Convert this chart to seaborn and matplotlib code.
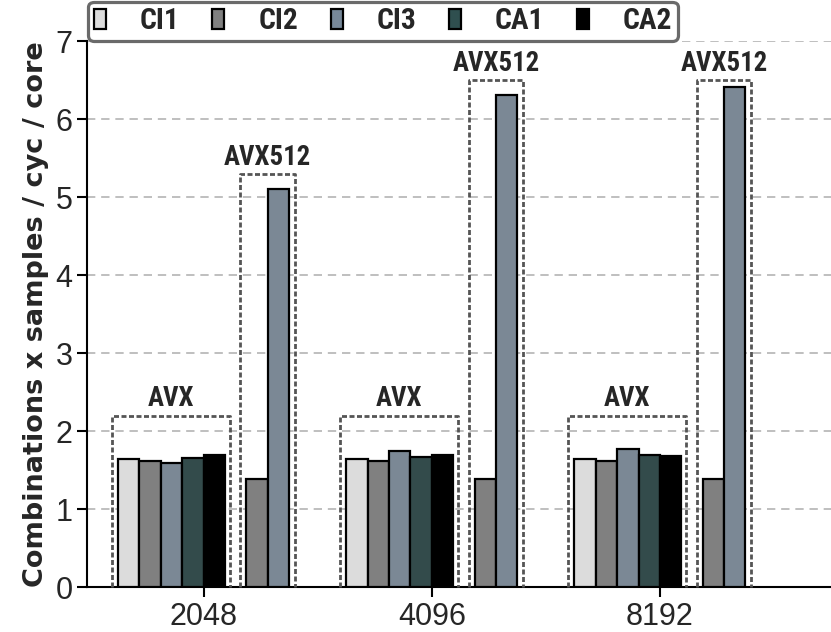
import pandas as pd
import numpy as np
import matplotlib

matplotlib.use("Agg")
import matplotlib.pyplot as plt
from matplotlib.patches import Patch
from matplotlib import font_manager
from matplotlib.font_manager import FontProperties
from matplotlib.textpath import TextPath
import seaborn as sns

sns.set_style("white")

# data
sizes = ["2048", "4096", "8192"]
ci1 = [1.64, 1.64, 1.64]
ci2 = [1.62, 1.62, 1.62]
ci3 = [1.59, 1.75, 1.77]
ca1 = [1.65, 1.67, 1.70]
ca2 = [1.69, 1.69, 1.68]
ci2_avx512 = [1.38, 1.38, 1.38]
ci3_avx512 = [5.10, 6.31, 6.41]

legend_names = ["CI1", "CI2", "CI3", "CA1", "CA2"]
colors = ["#dcdcdc", "#808080", "#778899", "#2f4f4f", "#000000"]

series = {
    "CI1": ci1,
    "CI2": ci2,
    "CI3": ci3,
    "CA1": ca1,
    "CA2": ca2,
    "CI2 AVX512": ci2_avx512,
    "CI3 AVX512": ci3_avx512,
}
hue_order = ["CI1", "CI2", "CI3", "CA1", "CA2", "gap", "CI2 AVX512", "CI3 AVX512"]
palette = dict(zip(legend_names, colors))
palette["gap"] = "white"
palette["CI2 AVX512"] = palette["CI2"]
palette["CI3 AVX512"] = palette["CI3"]

rows = []
for name, vals in series.items():
    for s, v in zip(sizes, vals):
        rows.append({"size": s, "variant": name, "value": v})
df = pd.DataFrame(rows)

plt.rcParams["font.family"] = ["Liberation Sans", "DejaVu Sans"]

# pick a bold narrow face, the reference uses something like Arial Narrow Bold
bold_faces = {f.name for f in font_manager.fontManager.ttflist if f.weight in (600, 700, "bold")}
narrow_name = "DejaVu Sans"
for cand in ["Nimbus Sans Narrow", "Arial Narrow", "Liberation Sans Narrow",
             "Roboto Condensed", "PT Sans Narrow", "Fira Sans Condensed",
             "IBM Plex Sans Condensed", "Asap Condensed"]:
    if cand in bold_faces:
        narrow_name = cand
        break
narrow = dict(family=[narrow_name, "DejaVu Sans"], weight="bold")
if narrow_name == "DejaVu Sans":
    narrow["stretch"] = "condensed"
ylab_font = dict(family=["DejaVu Sans"], weight="bold")


def cap_size(cap_px, font):
    # font size (pt) whose capital letters are cap_px pixels tall at 100 dpi
    fp = FontProperties(family=font["family"], weight=font["weight"],
                        stretch=font.get("stretch", "normal"))
    h = TextPath((0, 0), "H", size=100, prop=fp).get_extents().height
    return cap_px * 100 / h * 72 / 100


#%%
fig = plt.figure(figsize=(8.31, 6.32), dpi=100)
renderer = fig.canvas.get_renderer()


def fit_size(s, target, font, rotation=0):
    # font size that gives the text the target length in pixels
    t = fig.text(0, 0, s, fontsize=20, rotation=rotation, **font)
    bb = t.get_window_extent(renderer)
    t.remove()
    length = bb.height if rotation else bb.width
    return 20 * target / length


ax = fig.add_axes([0.105, 0.071, 0.895, 0.864])

group_width = 0.75
sns.barplot(
    data=df,
    x="size",
    y="value",
    hue="variant",
    hue_order=hue_order,
    order=sizes,
    palette=palette,
    width=group_width,
    edgecolor="black",
    linewidth=1.6,
    errorbar=None,
    legend=False,
    ax=ax,
    zorder=3,
)

ax.set_ylim(0, 7)
ax.set_xlim(-0.51, 2.75)
ax.set_yticks(range(8))
ax.yaxis.grid(True, linestyle=(0, (5, 3.5)), color="#b4b4b4", linewidth=1.2, zorder=0)
ax.set_axisbelow(True)
for side in ["top", "right"]:
    ax.spines[side].set_visible(False)
for side in ["left", "bottom"]:
    ax.spines[side].set_color("black")
    ax.spines[side].set_linewidth(1.5)
ax.tick_params(axis="both", which="major", labelsize=22, length=7, width=1.5,
               direction="out", color="black", bottom=True, left=True)
ax.set_xlabel("")
ylabel = "Combinations x samples / cyc / core"
ax.set_ylabel(ylabel, fontsize=fit_size(ylabel, 545, ylab_font, rotation=90),
              labelpad=5, **ylab_font)

# dashed boxes around the AVX and AVX512 bar sets
slot = group_width / len(hue_order)
box_style = dict(color="#555555", linewidth=2.0, linestyle=(0, (1.8, 0.9)),
                 zorder=4, clip_on=False)
avx_size = cap_size(19, narrow)
for i, s in enumerate(sizes):
    left = i - group_width / 2
    x0, x1 = left - 0.026, left + 5 * slot + 0.02
    top = 2.2
    ax.plot([x0, x0, x1, x1], [0, top, top, 0], **box_style)
    ax.text((x0 + x1) / 2, top + 0.04, "AVX", ha="center", va="bottom",
            fontsize=avx_size, **narrow)

    x0, x1 = left + 6 * slot - 0.026, left + 8 * slot + 0.026
    top = min(ci3_avx512[i] + 0.2, 6.5)
    ax.plot([x0, x0, x1, x1], [0, top, top, 0], **box_style)
    ax.text((x0 + x1) / 2, top + 0.04, "AVX512", ha="center", va="bottom",
            fontsize=avx_size, **narrow)

# legend, sized to the reference (caps ~21 px tall, box ~590 px wide)
leg_size = cap_size(21, narrow)
em = leg_size * 100 / 72
handles = [Patch(facecolor=c, edgecolor="black", linewidth=1.6) for c in colors]
colspace = 28 / em
for _ in range(4):
    leg = fig.legend(
        handles,
        legend_names,
        loc="center",
        bbox_to_anchor=(0.461, 0.966),
        ncol=5,
        frameon=True,
        fancybox=True,
        handlelength=12 / em,
        handleheight=20 / em,
        handletextpad=34 / em,
        columnspacing=colspace,
        borderpad=0.2,
        borderaxespad=0,
        prop=dict(size=leg_size, **narrow),
    )
    w = leg.get_window_extent(renderer).width
    if abs(w - 590) < 2:
        break
    leg.remove()
    colspace = max(0.2, colspace + (590 - w) / (4 * em))
frame = leg.get_frame()
frame.set_edgecolor("#6a6a6a")
frame.set_linewidth(2.3)
frame.set_alpha(1)

plt.savefig("out.png", dpi=100)
